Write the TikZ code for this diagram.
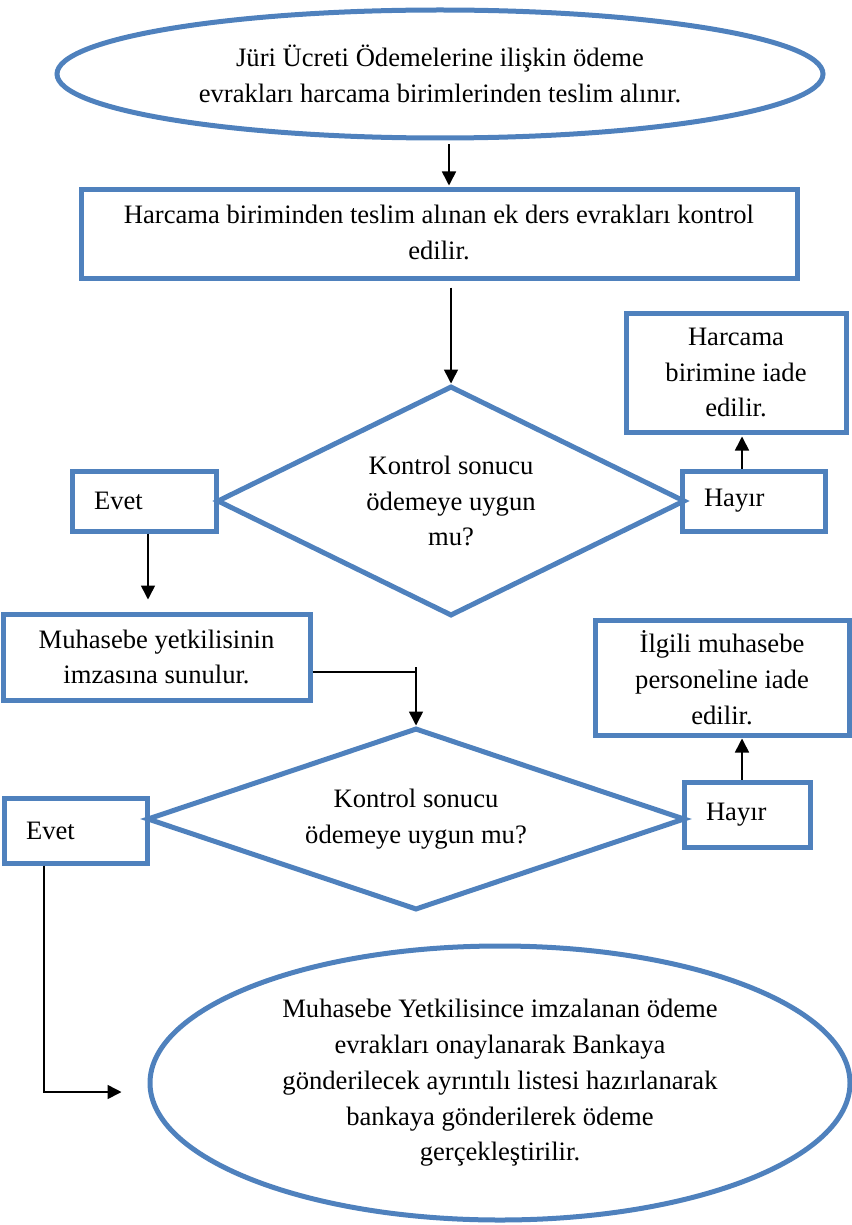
\documentclass[tikz,border=0pt]{standalone}
\usepackage{fontspec}
\setmainfont{Liberation Serif}
\usetikzlibrary{shapes.geometric,arrows.meta,calc}
\definecolor{ofblue}{RGB}{79,129,189}
\begin{document}
\begin{tikzpicture}[x=0.5pt,y=-0.5pt,
  every node/.style={font=\fontsize{13.3}{17.9}\selectfont},
  blueline/.style={draw=ofblue, line width=2.5pt},
  ell/.style={blueline, ellipse, inner sep=0pt, align=center},
  box/.style={blueline, rectangle, inner sep=0pt, align=center},
  dia/.style={blueline, diamond, inner sep=0pt, align=center},
  lbl/.style={blueline, rectangle, inner ysep=0pt, inner xsep=11pt, align=left},
  arr/.style={draw=black, line width=0.8pt, -{Triangle[length=7pt,width=7pt]}},
  conn/.style={draw=black, line width=0.8pt}]
\useasboundingbox (0,0) rectangle (851,1225);

\node[ell, minimum width=383pt, minimum height=64pt] (e1) at (440,74)
  {Jüri Ücreti Ödemelerine ilişkin ödeme\\ evrakları harcama birimlerinden teslim alınır.};
\node[box, minimum width=358pt, minimum height=44pt, text depth=2pt] (b1) at (439,234)
  {Harcama biriminden teslim alınan ek ders evrakları kontrol\\ edilir.};
\node[dia, minimum width=234pt, minimum height=115pt, shape aspect=2] (d1) at (451,501)
  {Kontrol sonucu\\ ödemeye uygun\\ mu?};
\node[lbl, text width=50pt, minimum height=30pt] (ev1) at (144,501) {Evet};
\node[lbl, text width=49.5pt, minimum height=30pt] (hy1) at (753.5,501) {Hayır};
\node[box, minimum width=110pt, minimum height=59.5pt] (hc) at (736,372.5)
  {Harcama\\ birimine iade\\ edilir.};
\node[box, minimum width=153.5pt, minimum height=43pt] (mh) at (156.5,657)
  {Muhasebe yetkilisinin\\ imzasına sunulur.};
\node[dia, minimum width=269pt, minimum height=91pt, shape aspect=3] (d2) at (416,819)
  {Kontrol sonucu\\ ödemeye uygun mu?};
\node[lbl, text width=49.5pt, minimum height=32.5pt] (ev2) at (75.5,830.5) {Evet};
\node[lbl, text width=41pt, minimum height=32.5pt] (hy2) at (747,814.5) {Hayır};
\node[box, minimum width=127pt, minimum height=57.5pt] (il) at (722,677.5)
  {İlgili muhasebe\\ personeline iade\\ edilir.};
\node[ell, minimum width=350pt, minimum height=137pt] (e2) at (500,1083)
  {Muhasebe Yetkilisince imzalanan ödeme\\ evrakları onaylanarak Bankaya\\ gönderilecek ayrıntılı listesi hazırlanarak\\ bankaya gönderilerek ödeme\\ gerçekleştirilir.};

\draw[arr] ($(e1.south)+(9,4)$) -- ($(e1.south |- b1.north)+(9,-2)$);
\draw[arr] ($(b1.south -| d1.north)+(0,7)$) -- (d1.north);
\draw[arr] ($(ev1.south)+(4,0)$) -- ($(ev1.south |- mh.north)+(4,-12)$);
\draw[arr] ($(hy1.north)+(-11.5,0)$) -- ($(hy1.north |- hc.south)+(-11.5,2)$);
\coordinate (mhE) at ($(mh.east)+(0,15)$);
\coordinate (jn) at (mhE -| d2.north);
\draw[conn] (mhE) -- (jn);
\draw[arr] ($(jn)+(0,-5)$) -- (d2.north);
\draw[arr] ($(hy2.north)+(-5,0)$) -- ($(hy2.north |- il.south)+(-5,1)$);
\coordinate (ev2s) at ($(ev2.south)+(-31.5,0)$);
\coordinate (tipE2) at ($(e2.west)+(-26,9)$);
\draw[arr] (ev2s) -- (tipE2 -| ev2s) -- (tipE2);
\end{tikzpicture}
\end{document}
